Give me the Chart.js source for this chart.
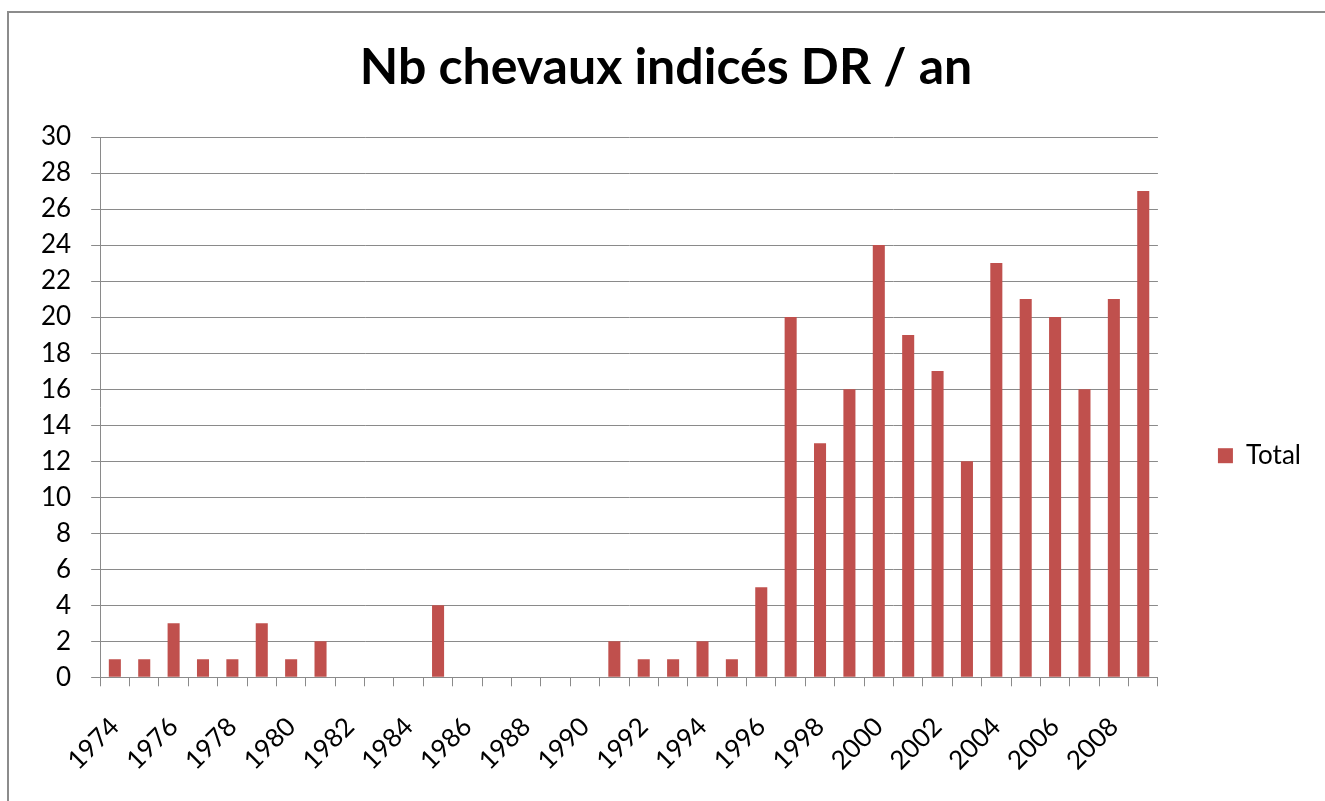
<!DOCTYPE html>
<html>
<head>
<meta charset="utf-8">
<title>Nb chevaux indicés DR / an</title>
<script src="https://cdn.jsdelivr.net/npm/chart.js@4.4.1/dist/chart.umd.min.js"></script>
<style>
  html, body { margin: 0; padding: 0; background: #fff; }
  #frame {
    position: absolute; left: 7px; top: 11px;
    width: 1400px; height: 900px;
    border: 2px solid #8c8c8c;
  }
  #wrap { position: absolute; left: 0; top: 0; width: 1325px; height: 801px; }
</style>
</head>
<body>
<div id="frame"></div>
<div id="wrap"><canvas id="myChart"></canvas></div>
<script>
const years = [
    "1974", "1975", "1976", "1977", "1978", "1979", "1980", "1981", "1982",
    "1983", "1984", "1985", "1986", "1987", "1988", "1989", "1990", "1991",
    "1992", "1993", "1994", "1995", "1996", "1997", "1998", "1999", "2000",
    "2001", "2002", "2003", "2004", "2005", "2006", "2007", "2008", "2009"
];
const total = [
    1, 1, 3, 1, 1, 3, 1, 2, 0,
    0, 0, 4, 0, 0, 0, 0, 0, 2,
    1, 1, 2, 1, 5, 20, 13, 16, 24,
    19, 17, 12, 23, 21, 20, 16, 21, 27
];
const yTicks = [0, 2, 4, 6, 8, 10, 12, 14, 16, 18, 20, 22, 24, 26, 28, 30];

const gridGray = '#8a8a8a';
const font = 'Lato';

const data = {
    labels: years,
    datasets: [
        {
            label: 'Total',
            data: total,
            backgroundColor: '#C0504D',
            borderWidth: 0,
            barPercentage: 0.41,
            categoryPercentage: 1.0
        }
    ]
};

// config
const config = {
    type: 'bar',
    data,
    options: {
        responsive: true,
        maintainAspectRatio: false,
        animation: false,
        layout: {
            padding: { left: 21, right: 14, top: 0, bottom: 0 }
        },
        scales: {
            x: {
                grid: {
                    display: true,
                    offset: true,
                    drawOnChartArea: false,
                    drawTicks: true,
                    tickLength: 9,
                    color: gridGray
                },
                border: { display: true, color: gridGray, width: 1 },
                ticks: {
                    autoSkip: false,
                    minRotation: 45,
                    maxRotation: 45,
                    padding: 25,
                    color: '#000',
                    font: { family: font, size: 26 },
                    callback: function(value, index) {
                        return index % 2 === 0 ? years[index] : '';
                    }
                }
            },
            y: {
                min: 0,
                max: 30,
                afterBuildTicks: function(axis) {
                    axis.ticks = yTicks.map(v => ({ value: v }));
                },
                grid: {
                    color: gridGray,
                    drawTicks: true,
                    tickLength: 9
                },
                border: { display: true, color: gridGray, width: 1 },
                ticks: {
                    padding: 20,
                    color: '#000',
                    font: { family: font, size: 26 }
                }
            }
        },
        plugins: {
            title: {
                display: true,
                text: 'Nb chevaux indicés DR / an',
                color: '#000',
                font: { family: font, size: 50, weight: 'bold' },
                padding: { top: 38, bottom: 39 }
            },
            legend: {
                position: 'right',
                title: { display: true, text: '', padding: { top: 96, bottom: 0 } },
                labels: {
                    boxWidth: 15,
                    boxHeight: 15,
                    padding: 60,
                    color: '#000',
                    font: { family: font, size: 26 }
                }
            },
            tooltip: { enabled: false }
        }
    }
};

// render init block
const myChart = new Chart(
    document.getElementById('myChart'),
    config,
);
</script>
</body>
</html>
